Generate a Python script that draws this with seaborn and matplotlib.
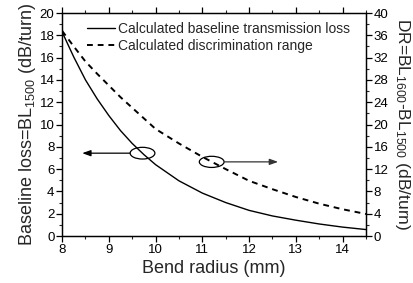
import matplotlib
matplotlib.use("Agg")
import matplotlib.pyplot as plt
from matplotlib.patches import Ellipse
from matplotlib.ticker import MultipleLocator
import seaborn as sns
import pandas as pd

# Data
radius = [8.0, 8.25, 8.5, 8.75, 9.0, 9.25, 9.5, 9.75, 10.0, 10.5, 11.0, 11.5,
          12.0, 12.5, 13.0, 13.5, 14.0, 14.5]
baseline_loss = [18.3, 16.05, 14.0, 12.3, 10.8, 9.45, 8.3, 7.3, 6.4, 4.95, 3.85,
                 3.0, 2.3, 1.8, 1.42, 1.08, 0.8, 0.58]
disc_range = [36.8, 34.0, 31.3, 29.1, 27.0, 24.9, 23.0, 21.1, 19.2, 16.6, 14.2,
              12.0, 9.9, 8.4, 7.0, 5.8, 4.8, 3.95]
labels = ["Calculated baseline transmission loss", "Calculated discrimination range"]

sns.set_style("ticks")
plt.rcParams["font.family"] = ["Liberation Sans", "DejaVu Sans"]
plt.rcParams["mathtext.default"] = "regular"

df = pd.DataFrame({"radius": radius, "bl": baseline_loss, "dr": disc_range})

fig = plt.figure(figsize=(4.14, 2.83), dpi=100)
ax = fig.add_axes([0.150, 0.166, 0.734, 0.788])
ax2 = ax.twinx()

sns.lineplot(data=df, x="radius", y="bl", ax=ax, color="black", linewidth=1.0,
             label=labels[0], legend=False)
sns.lineplot(data=df, x="radius", y="dr", ax=ax2, color="black", linewidth=1.4,
             linestyle=(0, (3, 2.5)), label=labels[1], legend=False)

ax.set_xlim(8, 14.5)
ax.set_ylim(0, 20)
ax2.set_ylim(0, 40)

ax.xaxis.set_major_locator(MultipleLocator(1))
ax.xaxis.set_minor_locator(MultipleLocator(0.5))
ax.yaxis.set_major_locator(MultipleLocator(2))
ax.yaxis.set_minor_locator(MultipleLocator(1))
ax2.yaxis.set_major_locator(MultipleLocator(4))
ax2.yaxis.set_minor_locator(MultipleLocator(2))

for a in (ax, ax2):
    a.tick_params(which="major", direction="out", length=4, width=0.9,
                  labelsize=9.5, colors="black", pad=1.5)
    a.tick_params(which="minor", direction="out", length=2, width=0.8)
    for s in a.spines.values():
        s.set_visible(True)
        s.set_linewidth(0.9)
        s.set_color("black")
ax.tick_params(which="both", top=True)

ax.set_xlabel("Bend radius (mm)", fontsize=13, labelpad=3)
ax.set_ylabel("Baseline loss=BL$_{1500}$ (dB/turn)", fontsize=13, labelpad=1)
ax2.set_ylabel("DR=BL$_{1600}$-BL$_{1500}$ (dB/turn)", fontsize=12.5,
               rotation=270, labelpad=17)

# Annotations: ellipses with arrows
ax.add_patch(Ellipse((9.72, 7.43), 0.53, 1.05, fill=False, edgecolor="black", linewidth=0.9))
ax.annotate("", xy=(8.43, 7.43), xytext=(9.455, 7.43),
            arrowprops=dict(arrowstyle="-|>,head_length=0.5,head_width=0.18",
                            color="black", linewidth=0.9, shrinkA=0, shrinkB=0))
ax.add_patch(Ellipse((11.2, 6.65), 0.53, 1.0, fill=False, edgecolor="black", linewidth=0.9))
ax.annotate("", xy=(12.62, 6.65), xytext=(11.465, 6.65),
            arrowprops=dict(arrowstyle="-|>,head_length=0.5,head_width=0.18",
                            color="#333333", linewidth=0.9, shrinkA=0, shrinkB=0))

h1, l1 = ax.get_legend_handles_labels()
h2, l2 = ax2.get_legend_handles_labels()
ax2.legend(h1 + h2, l1 + l2, loc="upper left", bbox_to_anchor=(0.065, 0.985),
           frameon=False, fontsize=10, handlelength=2.0, handletextpad=0.2,
           labelspacing=0.2, borderaxespad=0)

fig.savefig("out.png", dpi=100)
